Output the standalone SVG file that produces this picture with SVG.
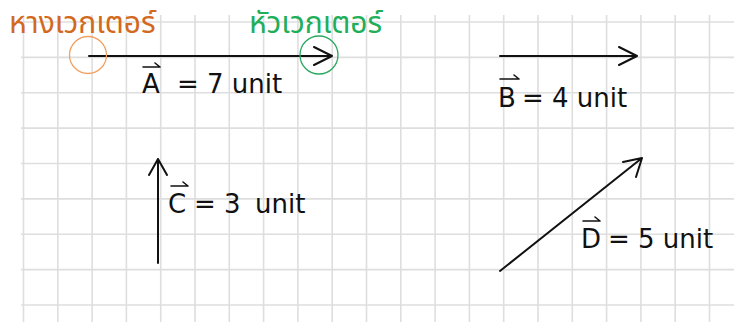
<svg xmlns="http://www.w3.org/2000/svg" width="734" height="322" viewBox="0 0 734 322">
<style>
.grid line{stroke:#dedede;stroke-width:1.6}
.vec{stroke:#111;stroke-width:2;fill:none;stroke-linecap:round;stroke-linejoin:round}
.over{stroke:#111;stroke-width:1.6;fill:none;stroke-linecap:round}
.lbl{font-family:"DejaVu Sans","Liberation Sans",sans-serif;font-size:26px;fill:#111}
.thai{font-family:"Noto Sans Thai","Noto Sans","DejaVu Sans",sans-serif;font-size:30px}
</style>
<rect width="734" height="322" fill="#fff"/>
<g class="grid">
<line x1="23.5" y1="15" x2="23.5" y2="322"/>
<line x1="57.8" y1="15" x2="57.8" y2="322"/>
<line x1="92.1" y1="15" x2="92.1" y2="322"/>
<line x1="126.4" y1="15" x2="126.4" y2="322"/>
<line x1="160.7" y1="15" x2="160.7" y2="322"/>
<line x1="195" y1="15" x2="195" y2="322"/>
<line x1="229.3" y1="15" x2="229.3" y2="322"/>
<line x1="263.6" y1="15" x2="263.6" y2="322"/>
<line x1="297.9" y1="15" x2="297.9" y2="322"/>
<line x1="332.2" y1="15" x2="332.2" y2="322"/>
<line x1="366.5" y1="15" x2="366.5" y2="322"/>
<line x1="400.8" y1="15" x2="400.8" y2="322"/>
<line x1="435.1" y1="15" x2="435.1" y2="322"/>
<line x1="469.4" y1="15" x2="469.4" y2="322"/>
<line x1="503.7" y1="15" x2="503.7" y2="322"/>
<line x1="538" y1="15" x2="538" y2="322"/>
<line x1="572.3" y1="15" x2="572.3" y2="322"/>
<line x1="606.6" y1="15" x2="606.6" y2="322"/>
<line x1="640.9" y1="15" x2="640.9" y2="322"/>
<line x1="675.2" y1="15" x2="675.2" y2="322"/>
<line x1="709.5" y1="15" x2="709.5" y2="322"/>
<line x1="21" y1="22" x2="734" y2="22"/>
<line x1="21" y1="57.4" x2="734" y2="57.4"/>
<line x1="21" y1="92.7" x2="734" y2="92.7"/>
<line x1="21" y1="128.1" x2="734" y2="128.1"/>
<line x1="21" y1="163.5" x2="734" y2="163.5"/>
<line x1="21" y1="198.9" x2="734" y2="198.9"/>
<line x1="21" y1="234.2" x2="734" y2="234.2"/>
<line x1="21" y1="269.6" x2="734" y2="269.6"/>
<line x1="21" y1="305" x2="734" y2="305"/>
</g>
<g id="connectors">
<g id="vecA"><path class="vec" d="M89,56 H332 M314,47 L332,56 L314,65"/></g>
<g id="vecB"><path class="vec" d="M500,56 H637 M619,47 L637,56 L619,65"/></g>
<g id="vecC"><path class="vec" d="M158,263 V159 M149,175 L158,159 L167,175"/></g>
<g id="vecD"><path class="vec" d="M500,271 L642,158 M623,162 L642,158 L636,177"/></g>
</g>
<g id="tail">
<circle cx="88" cy="55" r="18.5" fill="none" stroke="#f0a060" stroke-width="1.3"/>
<text class="thai" x="9" y="33" fill="#d2691e">หางเวกเตอร์</text>
</g>
<g id="head">
<circle cx="319" cy="55" r="19" fill="none" stroke="#2aa860" stroke-width="1.3"/>
<text class="thai" x="249" y="33" fill="#1fae5a">หัวเวกเตอร์</text>
</g>
<g id="labelA">
<path class="over" d="M143,67 H160 M155,63 L160,67"/>
<text class="lbl" x="142" y="93">A</text>
<text class="lbl" x="177" y="93">= 7 unit</text>
</g>
<g id="labelB">
<path class="over" d="M500,79 H519 M514,75 L519,79"/>
<text class="lbl" x="498" y="107">B</text>
<text class="lbl" x="522" y="107">= 4 unit</text>
</g>
<g id="labelC">
<path class="over" d="M171,186 H188 M183,182 L188,186"/>
<text class="lbl" x="168" y="213">C</text>
<text class="lbl" x="194" y="213">= 3</text>
<text class="lbl" x="255" y="213">unit</text>
</g>
<g id="labelD">
<path class="over" d="M583,221 H600 M595,217 L600,221"/>
<text class="lbl" x="581" y="248">D</text>
<text class="lbl" x="608" y="248">= 5 unit</text>
</g>
</svg>
